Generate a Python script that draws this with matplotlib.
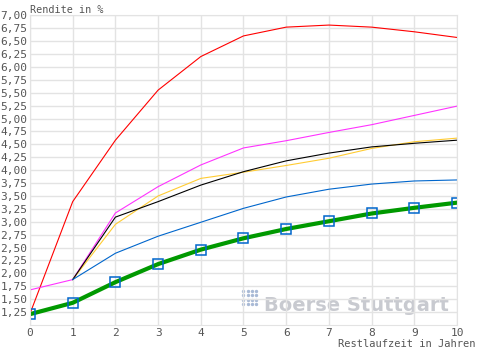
import matplotlib
matplotlib.use('Agg')
import matplotlib.pyplot as plt
import numpy as np

# Restlaufzeit in Jahren
years = [0, 1, 2, 3, 4, 5, 6, 7, 8, 9, 10]
years_from1 = [1, 2, 3, 4, 5, 6, 7, 8, 9, 10]

red = [1.22, 3.39, 4.58, 5.55, 6.20, 6.60, 6.77, 6.81, 6.77, 6.68, 6.57]
magenta = [1.68, 1.88, 3.17, 3.68, 4.10, 4.43, 4.57, 4.73, 4.88, 5.06, 5.24]
black = [1.88, 3.09, 3.39, 3.71, 3.97, 4.18, 4.33, 4.45, 4.52, 4.58]
yellow = [1.88, 2.95, 3.50, 3.84, 3.96, 4.09, 4.23, 4.42, 4.55, 4.62]
blue = [1.88, 2.39, 2.72, 2.99, 3.26, 3.48, 3.63, 3.73, 3.79, 3.81]
green = [1.21, 1.43, 1.83, 2.18, 2.46, 2.68, 2.86, 3.01, 3.16, 3.27, 3.37]

y_ticks = [1.25 + 0.25 * i for i in range(24)]
y_labels = ['{:.2f}'.format(v).replace('.', ',') for v in y_ticks]

txt = '#555555'
plt.rcParams['font.family'] = ['DejaVu Sans Mono']

fig = plt.figure(figsize=(5, 3.5), dpi=100)
ax = fig.add_axes([0.06, 0.0714, 0.854, 0.885])

ax.plot(years, red, color='#ff0000', lw=0.8)
ax.plot(years, magenta, color='#ff33ff', lw=0.8)
ax.plot(years_from1, yellow, color='#ffcc33', lw=0.8)
ax.plot(years_from1, black, color='#000000', lw=0.8)
ax.plot(years_from1, blue, color='#0066cc', lw=0.8)
ax.plot(years, green, color='#009900', lw=3, marker='s', markersize=7,
        markerfacecolor='none', markeredgecolor='#0066cc', markeredgewidth=1.1)

ax.set_xlim(0, 10)
ax.set_ylim(1.0, 7.0)
ax.set_xticks(years)
ax.set_yticks(y_ticks)
ax.set_yticklabels(y_labels)
ax.grid(True, color='#e3e3e3', lw=1)
ax.set_axisbelow(True)
for s in ax.spines.values():
    s.set_color('#e3e3e3')
ax.tick_params(length=0, labelsize=8, colors=txt, pad=2)

fig.text(0.06, 0.985, 'Rendite in %', fontsize=7.3, color=txt, ha='left', va='top')
fig.text(0.952, 0.004, 'Restlaufzeit in Jahren', fontsize=7.5, color=txt,
         ha='right', va='bottom')

# watermark
ax.text(0.548, 0.064, 'Boerse Stuttgart', transform=ax.transAxes, fontsize=14,
        family='DejaVu Sans', fontweight='bold', color='#c8cad0', ha='left',
        va='center', zorder=0)
dx, dy = np.meshgrid(np.arange(4), np.arange(4))
ax.scatter(0.5 + dx.ravel() * 0.01, 0.068 + dy.ravel() * 0.014,
           transform=ax.transAxes, s=2, color='#a9bad6', zorder=0)

fig.savefig('out.png', dpi=100)
